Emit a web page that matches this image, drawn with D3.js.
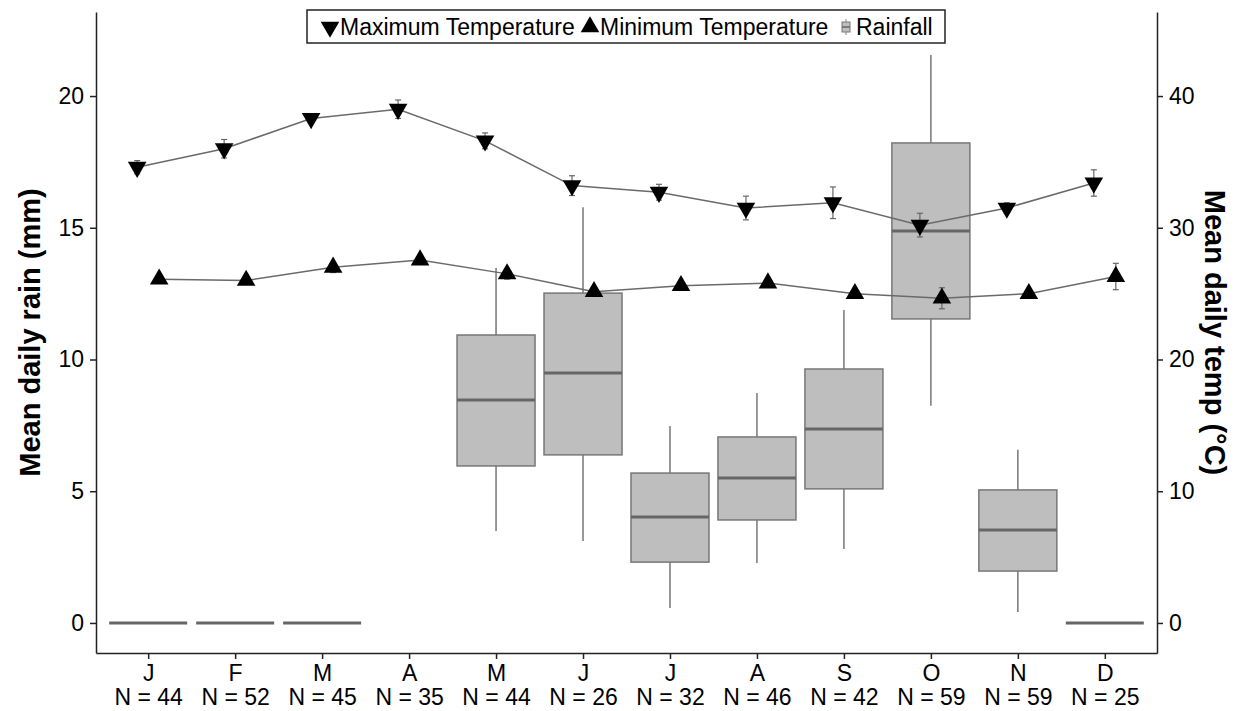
<!DOCTYPE html>
<html>
<head>
<meta charset="utf-8">
<title>Rain and temperature by month</title>
<script src="https://cdnjs.cloudflare.com/ajax/libs/d3/7.8.5/d3.min.js"></script>
<style>
body { margin: 0; background: #fff; }
svg { display: block; font-family: "Liberation Sans", Arial, sans-serif; }
.axis path, .axis line { stroke: #222; stroke-width: 1.5; }
.axis text { font-size: 23px; fill: #000; }
.title { font-size: 29px; font-weight: bold; fill: #000; }
</style>
</head>
<body>
<div class="target"></div>
<script>
var months = ["J", "F", "M", "A", "M", "J", "J", "A", "S", "O", "N", "D"];
var counts = [44, 52, 45, 35, 44, 26, 32, 46, 42, 59, 59, 25];

// max / min temperature means and error (°C)
var maxTemp = [34.6, 36.0, 38.3, 39.0, 36.6, 33.2, 32.7, 31.5, 31.9, 30.2, 31.5, 33.4];
var maxErr  = [0.5, 0.7, 0.3, 0.7, 0.6, 0.75, 0.6, 0.9, 1.2, 0.9, 0.4, 1.0];
var minTemp = [26.1, 26.0, 27.0, 27.55, 26.5, 25.15, 25.6, 25.8, 25.0, 24.65, 25.0, 26.3];
var minErr  = [0.3, 0.3, 0.4, 0.3, 0.4, 0.3, 0.2, 0.2, 0.3, 0.8, 0.3, 1.0];

// rainfall box stats (mm): low whisker, q1, median, q3, high whisker (null = none)
var rainLow  = [0, 0, 0, null, 3.49, 3.11, 0.57, 2.28, 2.81, 8.24, 0.42, 0];
var rainQ1   = [0, 0, 0, null, 5.96, 6.38, 2.31, 3.91, 5.09, 11.54, 1.97, 0];
var rainMed  = [0, 0, 0, null, 8.46, 9.49, 4.02, 5.50, 7.36, 14.88, 3.53, 0];
var rainQ3   = [0, 0, 0, null, 10.93, 12.52, 5.69, 7.06, 9.64, 18.22, 5.05, 0];
var rainHigh = [0, 0, 0, null, 13.47, 15.78, 7.48, 8.73, 11.88, 21.56, 6.57, 0];

var rainTicks = [0, 5, 10, 15, 20];
var tempTicks = [0, 10, 20, 30, 40];

var margin = {top: 12, right: 82, bottom: 58, left: 96},
  width = 1239 - margin.left - margin.right,
  height = 711 - margin.top - margin.bottom;

var svg = d3.select(".target").append("svg")
  .attr("width", 1239).attr("height", 711)
  .append("g")
  .attr("transform", "translate(" + margin.left + "," + margin.top + ")");

var idx = d3.range(months.length);
var x = d3.scalePoint().domain(idx).range([0, width]).padding(0.6);
var yRain = d3.scaleLinear().domain([-1.14, 23.19]).range([height, 0]);
var yTemp = d3.scaleLinear().domain([-2.28, 46.38]).range([height, 0]);
var boxW = 78, dodge = 11;

// axes
var xAxis = svg.append("g").attr("class", "axis")
  .attr("transform", "translate(0," + height + ")")
  .call(d3.axisBottom(x).tickSize(6).tickSizeOuter(0).tickFormat(function(i){ return months[i]; }));
xAxis.selectAll("text").attr("y", 28).attr("dy", null);
xAxis.selectAll(".tick").append("text")
  .attr("y", 52).attr("fill", "#000")
  .style("text-anchor", "middle")
  .text(function(i){ return "N = " + counts[i]; });

svg.append("g").attr("class", "axis")
  .call(d3.axisLeft(yRain).tickValues(rainTicks).tickSize(6).tickSizeOuter(0).tickPadding(6));
svg.append("g").attr("class", "axis")
  .attr("transform", "translate(" + width + ",0)")
  .call(d3.axisRight(yTemp).tickValues(tempTicks).tickSize(6).tickSizeOuter(0).tickPadding(6));

svg.append("text").attr("class", "title")
  .attr("transform", "translate(-66," + height / 2 + ") rotate(-90)")
  .attr("text-anchor", "middle").attr("dy", "0.35em")
  .text("Mean daily rain (mm)");
svg.append("text").attr("class", "title")
  .attr("transform", "translate(" + (width + 58) + "," + height / 2 + ") rotate(90)")
  .attr("text-anchor", "middle").attr("dy", "0.35em")
  .text("Mean daily temp (°C)");

// rainfall boxes
var rain = idx.filter(function(i){ return rainMed[i] !== null; });
var box = svg.append("g").selectAll("g").data(rain).enter().append("g");
box.append("line")
  .attr("x1", function(i){ return x(i); }).attr("x2", function(i){ return x(i); })
  .attr("y1", function(i){ return yRain(rainLow[i]); })
  .attr("y2", function(i){ return yRain(rainHigh[i]); })
  .attr("stroke", "#777").attr("stroke-width", 1.5);
box.append("rect")
  .attr("x", function(i){ return x(i) - boxW / 2; })
  .attr("width", boxW)
  .attr("y", function(i){ return yRain(rainQ3[i]); })
  .attr("height", function(i){ return yRain(rainQ1[i]) - yRain(rainQ3[i]); })
  .attr("fill", "#bebebe").attr("stroke", "#777").attr("stroke-width", 1.5);
box.append("line")
  .attr("x1", function(i){ return x(i) - boxW / 2; })
  .attr("x2", function(i){ return x(i) + boxW / 2; })
  .attr("y1", function(i){ return yRain(rainMed[i]); })
  .attr("y2", function(i){ return yRain(rainMed[i]); })
  .attr("stroke", "#666").attr("stroke-width", 3);

// temperature series
var tri = d3.symbol().type(d3.symbolTriangle).size(150);
function series(vals, errs, off, rot) {
  var g = svg.append("g");
  var line = d3.line()
    .x(function(i){ return x(i) + off; })
    .y(function(i){ return yTemp(vals[i]); });
  g.append("path").datum(idx).attr("d", line)
    .attr("fill", "none").attr("stroke", "#6a6a6a").attr("stroke-width", 1.5);
  var eb = g.selectAll(".eb").data(idx).enter().append("g");
  eb.append("line")
    .attr("x1", function(i){ return x(i) + off; }).attr("x2", function(i){ return x(i) + off; })
    .attr("y1", function(i){ return yTemp(vals[i] - errs[i]); })
    .attr("y2", function(i){ return yTemp(vals[i] + errs[i]); })
    .attr("stroke", "#666").attr("stroke-width", 1.2);
  [-1, 1].forEach(function(s){
    eb.append("line")
      .attr("x1", function(i){ return x(i) + off - 3; }).attr("x2", function(i){ return x(i) + off + 3; })
      .attr("y1", function(i){ return yTemp(vals[i] + s * errs[i]); })
      .attr("y2", function(i){ return yTemp(vals[i] + s * errs[i]); })
      .attr("stroke", "#666").attr("stroke-width", 1.2);
  });
  g.selectAll(".pt").data(idx).enter().append("path")
    .attr("d", tri)
    .attr("transform", function(i){ return "translate(" + (x(i) + off) + "," + yTemp(vals[i]) + ") rotate(" + rot + ")"; })
    .attr("fill", "#000");
}
series(maxTemp, maxErr, -dodge, 180);
series(minTemp, minErr, dodge, 0);

// legend
var leg = svg.append("g").attr("transform", "translate(" + (307 - margin.left) + "," + (10 - margin.top) + ")");
leg.append("rect").attr("width", 638).attr("height", 33)
  .attr("fill", "#fff").attr("stroke", "#222").attr("stroke-width", 1.5);
var items = [
  {label: "Maximum Temperature", kind: "max", x: 23},
  {label: "Minimum Temperature", kind: "min", x: 283},
  {label: "Rainfall", kind: "rain", x: 539}
];
items.forEach(function(d){
  var it = leg.append("g").attr("transform", "translate(" + d.x + ",17)");
  if (d.kind === "rain") {
    it.append("line").attr("x1", 0).attr("x2", 0).attr("y1", -8).attr("y2", 8).attr("stroke", "#888");
    it.append("rect").attr("x", -4).attr("y", -5).attr("width", 8).attr("height", 10)
      .attr("fill", "#bebebe").attr("stroke", "#777");
    it.append("line").attr("x1", -4).attr("x2", 4).attr("y1", 0).attr("y2", 0).attr("stroke", "#666").attr("stroke-width", 1.5);
  } else {
    it.append("path").attr("d", tri)
      .attr("transform", "rotate(" + (d.kind === "max" ? 180 : 0) + ")")
      .attr("fill", "#000");
  }
  it.append("text").attr("x", 10).attr("dy", "0.35em")
    .style("font-size", "23px").attr("fill", "#000").text(d.label);
});
</script>
</body>
</html>
